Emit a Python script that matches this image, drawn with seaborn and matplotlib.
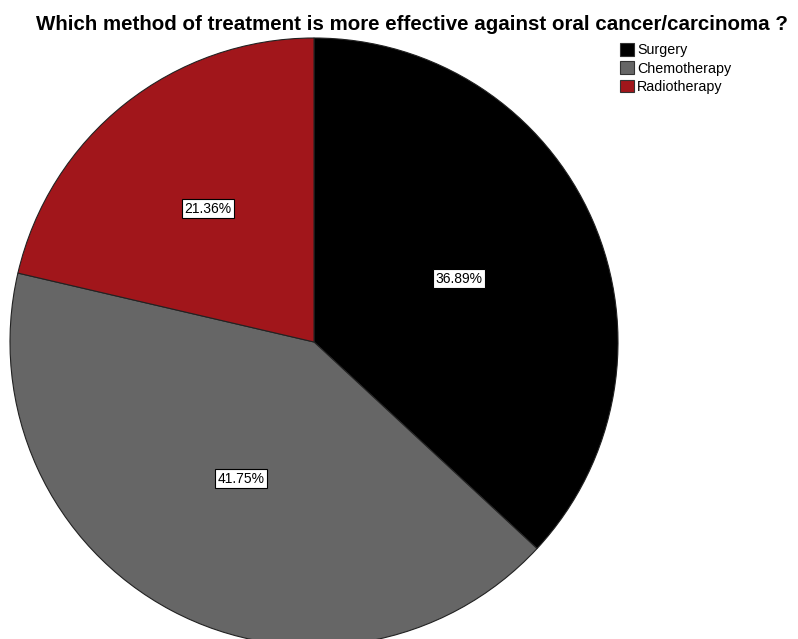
import matplotlib
matplotlib.use("Agg")
import numpy as np
import matplotlib.pyplot as plt
import seaborn as sns
from matplotlib.patches import Patch

# data
treatments = ["Surgery", "Chemotherapy", "Radiotherapy"]
shares = [36.89, 41.75, 21.36]
colors = ["#000000", "#666666", "#a1161b"]

sns.set_style("white")
plt.rcParams["font.family"] = ["Liberation Sans", "DejaVu Sans"]
plt.rcParams["text.color"] = "black"

fig = plt.figure(figsize=(7.98, 6.39), dpi=100)
ax = fig.add_axes([0, 0, 1, 1])

cx, cy, r = 314, 639 - 342, 304
wedges, texts, autotexts = ax.pie(
    shares, colors=colors, startangle=90, counterclock=False,
    center=(cx, cy), radius=r, autopct="%.2f%%", pctdistance=0.52,
    wedgeprops=dict(edgecolor="#222222", linewidth=0.8), frame=True)
ax.set_xlim(0, 798)
ax.set_ylim(0, 639)
ax.set_aspect("equal")
ax.axis("off")

# label distance per slice (fraction of radius)
label_dist = [0.52, 0.51, 0.56]
for w, t, d in zip(wedges, autotexts, label_dist):
    ang = np.deg2rad((w.theta1 + w.theta2) / 2)
    t.set_position((cx + d * r * np.cos(ang), cy + d * r * np.sin(ang)))
    t.set_fontsize(10)
    t.set_color("black")
    t.set_bbox(dict(facecolor="white", edgecolor="black", linewidth=0.8, pad=1.8))

fig.text(412, 639 - 24, "Which method of treatment is more effective against oral cancer/carcinoma ?",
         transform=None, ha="center", va="center", fontsize=14.8, fontweight="bold", color="black")

handles = [Patch(facecolor=c, edgecolor="#333333", linewidth=0.8) for c in colors]
leg = fig.legend(handles, treatments, loc="upper left", bbox_to_anchor=(620 / 798, 1 - 43 / 639),
                 frameon=False, fontsize=10.3, handlelength=0.95, handleheight=1.0,
                 handletextpad=0.25, labelspacing=0.28, borderaxespad=0, borderpad=0)
for t in leg.get_texts():
    t.set_color("black")

fig.savefig("out.png", dpi=100)
